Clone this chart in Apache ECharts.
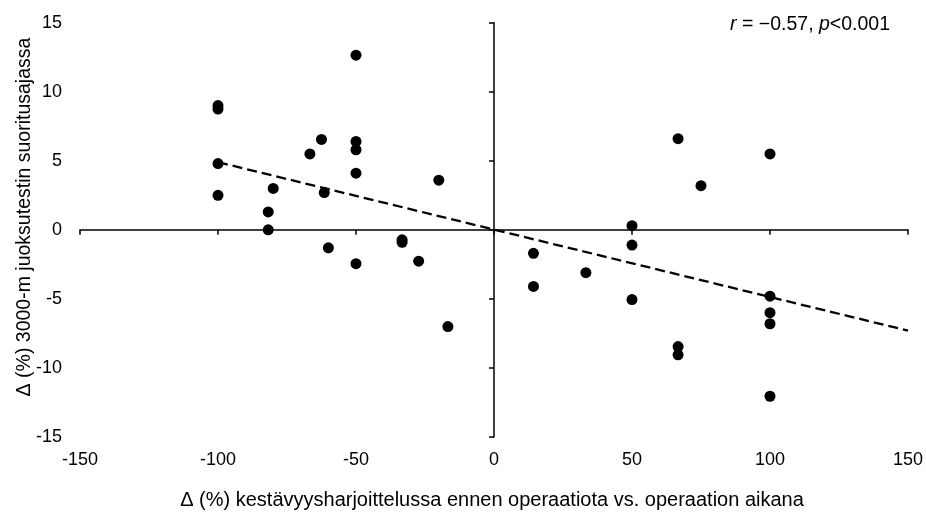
<!DOCTYPE html>
<html>
<head>
<meta charset="utf-8">
<script src="https://cdn.jsdelivr.net/npm/echarts@6/dist/echarts.min.js"></script>
<style>html,body{margin:0;padding:0;background:#fff}#c{width:926px;height:512px}</style>
</head>
<body>
<div id="c"></div>
<script>
const xValues = [-100, -100, -100, -100, -50, -50, -50, -50, -50, -62.5, -66.7, -80, -61.5, -81.8, -81.8, -20, -60, -33.3, -33.3, -27.3, -16.7,
                 66.7, 100, 75, 50, 50, 14.3, 14.3, 33.3, 50, 100, 100, 100, 66.7, 66.7, 100];
const yValues = [9.0, 8.75, 4.8, 2.5, 12.65, 6.4, 5.8, 4.1, -2.45, 6.55, 5.5, 3.0, 2.7, 1.3, 0.0, 3.6, -1.3, -0.72, -0.9, -2.27, -7.0,
                 6.6, 5.5, 3.2, 0.3, -1.1, -1.7, -4.1, -3.1, -5.05, -4.8, -6.0, -6.8, -8.45, -9.05, -12.05];
const trendX = [-100, 150];
const trendY = [4.9, -7.3];
const xTicks = [-150, -100, -50, 0, 50, 100, 150];
const yTicks = [-15, -10, -5, 0, 5, 10, 15];
const xTitle = 'Δ (%) kestävyysharjoittelussa ennen operaatiota vs. operaation aikana';
const yTitle = 'Δ (%) 3000-m juoksutestin suoritusajassa';

const FONT = '"Liberation Sans", Arial, sans-serif';
const chart = echarts.init(document.getElementById('c'), null, {renderer: 'canvas'});
const xMin = xTicks[0], xMax = xTicks[xTicks.length - 1], xInt = xTicks[1] - xTicks[0];
const yMin = yTicks[0], yMax = yTicks[yTicks.length - 1], yInt = yTicks[1] - yTicks[0];
const labelStyle = {color: '#000', fontSize: 18, fontFamily: FONT};

chart.setOption({
  animation: false,
  backgroundColor: '#fff',
  grid: {left: 80, right: 15, top: 22.7, bottom: 75, containLabel: false},
  xAxis: [
    {type: 'value', min: xMin, max: xMax, interval: xInt, position: 'bottom',
     axisLine: {show: true, onZero: true, onZeroAxisIndex: 0, lineStyle: {color: '#000', width: 1.5}},
     axisTick: {show: true, length: 5, lineStyle: {color: '#000', width: 1.5}},
     axisLabel: {show: false}, splitLine: {show: false}},
    {type: 'value', min: xMin, max: xMax, interval: xInt, position: 'bottom',
     axisLine: {show: false, onZero: false}, axisTick: {show: false},
     axisLabel: Object.assign({margin: 14}, labelStyle), splitLine: {show: false}}
  ],
  yAxis: [
    {type: 'value', min: yMin, max: yMax, interval: yInt, position: 'left',
     axisLine: {show: true, onZero: true, onZeroAxisIndex: 0, lineStyle: {color: '#000', width: 1.5}},
     axisTick: {show: true, length: 5, lineStyle: {color: '#000', width: 1.5}},
     axisLabel: {show: false}, splitLine: {show: false}},
    {type: 'value', min: yMin, max: yMax, interval: yInt, position: 'left',
     axisLine: {show: false, onZero: false}, axisTick: {show: false},
     axisLabel: Object.assign({margin: 18}, labelStyle), splitLine: {show: false}}
  ],
  graphic: [
    {type: 'text', x: 492, y: 500,
     style: {text: xTitle, fill: '#000', font: '20px ' + FONT, align: 'center', verticalAlign: 'middle'}},
    {type: 'text', x: 25, y: 217, rotation: Math.PI / 2,
     style: {text: yTitle, fill: '#000', font: '19.5px ' + FONT, align: 'center', verticalAlign: 'middle'}},
    {type: 'text', x: 890, y: 25,
     style: {
       text: '{i|r} = −0.57, {i|p}<0.001',
       align: 'right', verticalAlign: 'middle',
       fill: '#000', font: '19.5px ' + FONT,
       rich: {i: {fontStyle: 'italic', fontSize: 19.5, fontFamily: FONT, fill: '#000'}}
     }}
  ],
  series: [
    {type: 'line', xAxisIndex: 0, yAxisIndex: 0, symbol: 'none', silent: true,
     data: trendX.map((x, i) => [x, trendY[i]]),
     lineStyle: {color: '#000', width: 2.3, type: [10, 5]}, z: 3},
    {type: 'scatter', xAxisIndex: 0, yAxisIndex: 0, symbolSize: 11,
     data: xValues.map((x, i) => [x, yValues[i]]),
     itemStyle: {color: '#000', opacity: 1}, z: 4}
  ]
});
</script>
</body>
</html>
